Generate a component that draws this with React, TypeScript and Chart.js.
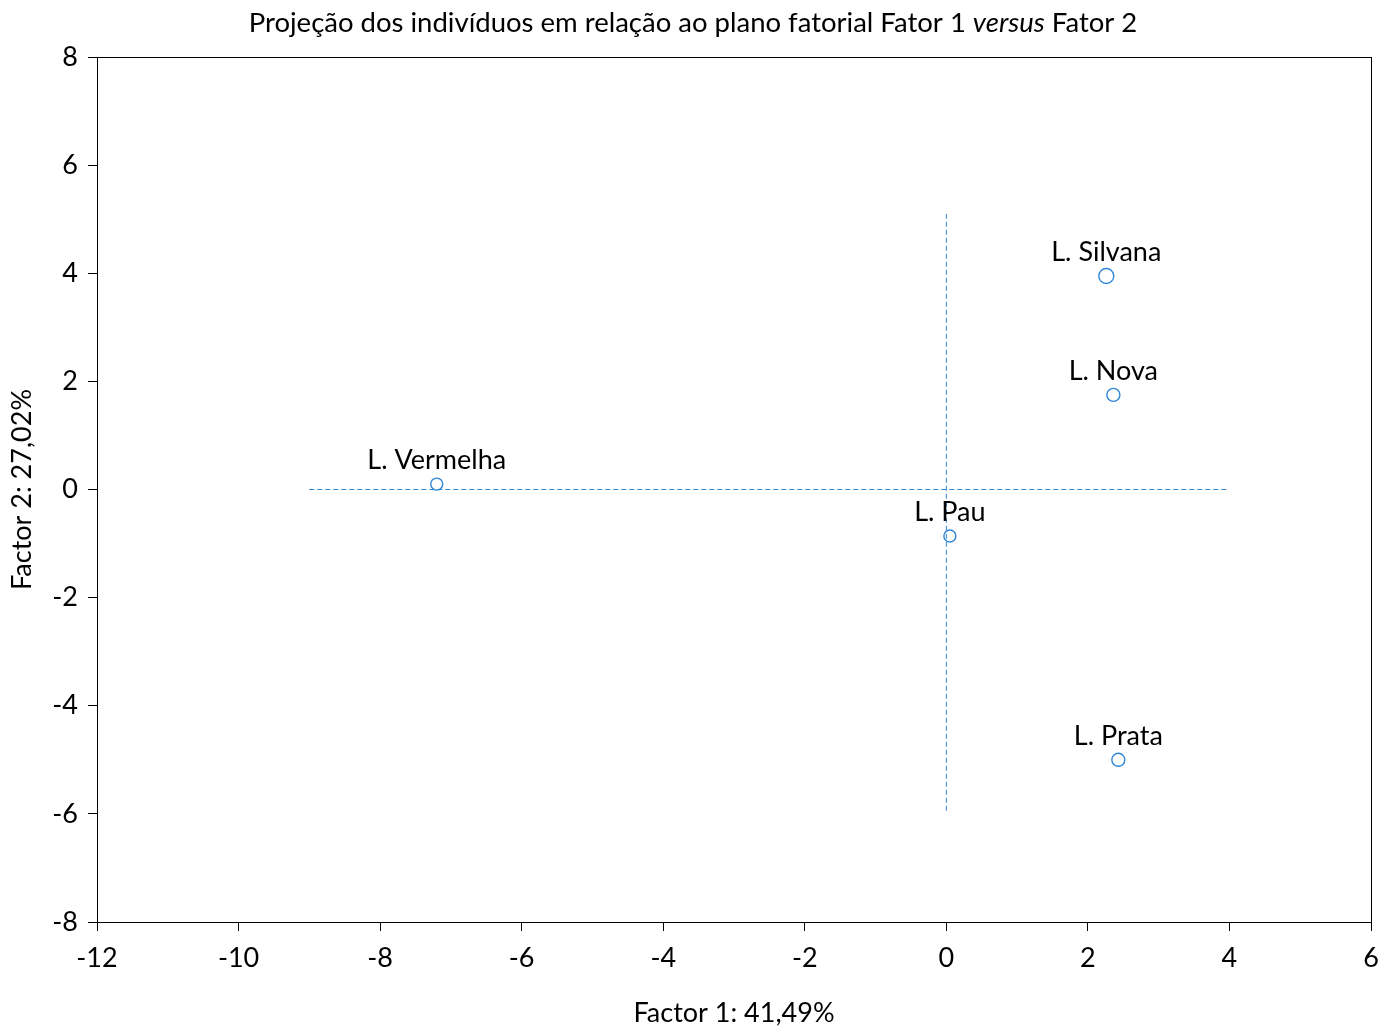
import React, { useEffect, useRef } from "react";
import { Chart, registerables } from "chart.js";

Chart.register(...registerables);

const pointNames = ["L. Silvana", "L. Nova", "L. Vermelha", "L. Pau", "L. Prata"];
const factor1 = [2.26, 2.36, -7.2, 0.05, 2.43];
const factor2 = [3.95, 1.75, 0.1, -0.86, -5.0];
const markerRadius = [7.5, 6.5, 6, 6, 6.5];

const hLineX = [-9, 4];
const hLineY = [0, 0];
const vLineX = [0, 0];
const vLineY = [5.1, -6];

const xMin = -12, xMax = 6, xStep = 2;
const yMin = -8, yMax = 8, yStep = 2;

const titleParts = [
  { text: "Projeção dos indivíduos em relação ao plano fatorial Fator 1 ", italic: false },
  { text: "versus", italic: true },
  { text: " Fator 2", italic: false },
];
const xTitle = "Factor 1: 41,49%";
const yTitle = "Factor 2: 27,02%";

const FONT = "Lato, 'Open Sans', sans-serif";
const BLUE = "#2f86d6";

export default function App() {
  const ref = useRef<HTMLCanvasElement>(null);
  useEffect(() => {
    const canvas = ref.current!;
    const titlePlugin = {
      id: "titleParts",
      afterDraw(chart: any) {
        const ctx = chart.ctx;
        ctx.save();
        ctx.fillStyle = "#000";
        ctx.textBaseline = "alphabetic";
        const size = 27.5;
        let total = 0;
        const widths = titleParts.map((p) => {
          ctx.font = `${p.italic ? "italic " : ""}${size}px ${FONT}`;
          const w = ctx.measureText(p.text).width;
          total += w;
          return w;
        });
        let x = chart.width / 2 - total / 2;
        titleParts.forEach((p, i) => {
          ctx.font = `${p.italic ? "italic " : ""}${size}px ${FONT}`;
          ctx.textAlign = "left";
          ctx.fillText(p.text, x, 32);
          x += widths[i];
        });
        ctx.restore();
      },
    };
    const framePlugin = {
      id: "frame",
      afterDraw(chart: any) {
        const { left, right, top, bottom } = chart.chartArea;
        const ctx = chart.ctx;
        ctx.save();
        ctx.strokeStyle = "#000";
        ctx.lineWidth = 1;
        ctx.strokeRect(Math.round(left) + 0.5, Math.round(top) + 0.5, Math.round(right - left), Math.round(bottom - top));
        ctx.restore();
      },
    };
    const labelPlugin = {
      id: "pointLabels",
      afterDatasetsDraw(chart: any) {
        const meta = chart.getDatasetMeta(2);
        const ctx = chart.ctx;
        ctx.save();
        ctx.fillStyle = "#000";
        ctx.font = `27px ${FONT}`;
        ctx.textAlign = "center";
        ctx.textBaseline = "alphabetic";
        meta.data.forEach((el: any, i: number) => {
          ctx.fillText(pointNames[i], el.x, el.y - 15);
        });
        ctx.restore();
      },
    };
    const chart = new Chart(canvas, {
      type: "scatter",
      data: {
        datasets: [
          {
            type: "line",
            data: hLineX.map((x, i) => ({ x, y: hLineY[i] })),
            borderColor: BLUE,
            borderWidth: 1,
            borderDash: [5, 3],
            pointRadius: 0,
            fill: false,
          },
          {
            type: "line",
            data: vLineX.map((x, i) => ({ x, y: vLineY[i] })),
            borderColor: BLUE,
            borderWidth: 1,
            borderDash: [5, 3],
            pointRadius: 0,
            fill: false,
          },
          {
            data: factor1.map((x, i) => ({ x, y: factor2[i] })),
            borderColor: BLUE,
            backgroundColor: "rgba(255,255,255,0)",
            borderWidth: 1.4,
            pointRadius: markerRadius,
            pointStyle: "circle",
          },
        ],
      } as any,
      options: {
        animation: false,
        responsive: true,
        maintainAspectRatio: false,
        layout: { padding: { top: 57, right: 15, left: 0, bottom: 0 } },
        plugins: { legend: { display: false }, tooltip: { enabled: false }, title: { display: false } },
        scales: {
          x: {
            type: "linear",
            min: xMin,
            max: xMax,
            afterFit: (s: any) => { s.height = 104; s.paddingLeft = 0; s.paddingRight = 0; },
            ticks: { stepSize: xStep, color: "#000", font: { family: FONT, size: 27 }, padding: 11 },
            grid: { drawOnChartArea: false, drawTicks: true, tickLength: 9, color: "#000" },
            border: { color: "#000", width: 1 },
            title: { display: true, text: xTitle, color: "#000", font: { family: FONT, size: 27 }, padding: { top: 0, bottom: -3 } },
          },
          y: {
            type: "linear",
            min: yMin,
            max: yMax,
            afterFit: (s: any) => { s.width = 97; s.paddingTop = 0; s.paddingBottom = 0; },
            ticks: { stepSize: yStep, color: "#000", font: { family: FONT, size: 27 }, padding: 10 },
            grid: { drawOnChartArea: false, drawTicks: true, tickLength: 9, color: "#000" },
            border: { color: "#000", width: 1 },
            title: { display: true, text: yTitle, color: "#000", font: { family: FONT, size: 27 }, padding: { top: 6, bottom: 0 } },
          },
        },
      } as any,
      plugins: [titlePlugin, framePlugin, labelPlugin],
    });
    return () => chart.destroy();
  }, []);
  return (
    <div style={{ position: "fixed", left: 0, top: 0, width: 1386, height: 1026, background: "#fff" }}>
      <canvas ref={ref} />
    </div>
  );
}
